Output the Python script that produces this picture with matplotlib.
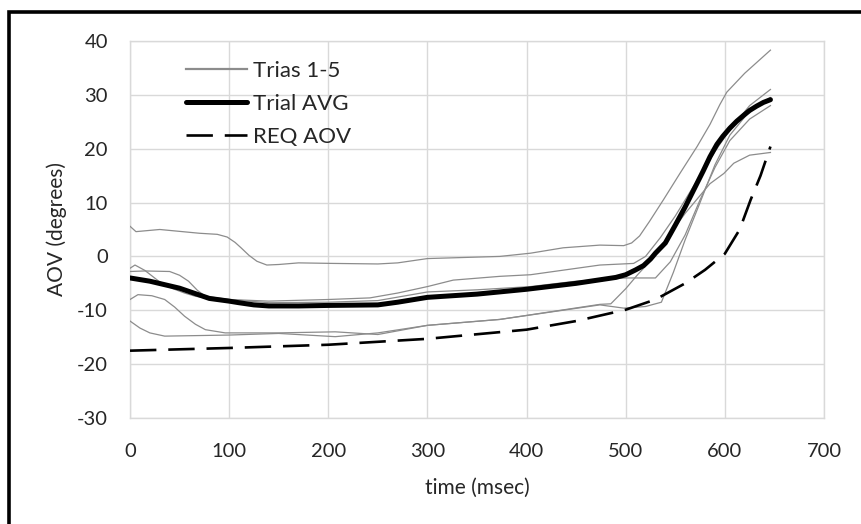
import matplotlib
matplotlib.use("Agg")
import matplotlib.pyplot as plt
from matplotlib.patches import Rectangle

plt.rcParams['font.family'] = ['Lato', 'DejaVu Sans']
plt.rcParams['axes.unicode_minus'] = False

# ---- data (time in msec, AOV in degrees) ----
t1_time = [0, 6, 30, 70, 88, 98, 106, 112, 120, 128, 138, 150, 170, 205, 250, 270, 300, 373,
           404, 437, 474, 498, 506, 514, 524, 538, 555, 572, 585, 595, 602, 620, 646]
t1_aov = [5.6, 4.6, 5.0, 4.3, 4.1, 3.6, 2.6, 1.6, 0.2, -0.9, -1.6, -1.5, -1.2, -1.3, -1.4, -1.2, -0.4, 0.0,
          0.6, 1.6, 2.1, 2.0, 2.5, 3.8, 6.5, 10.5, 15.5, 20.4, 24.5, 28.2, 30.5, 34.0, 38.3]

t2_time = [0, 5, 15, 29, 42, 55, 66, 76, 100, 140, 200, 242, 270, 300, 326, 373, 404, 474,
           508, 520, 535, 550, 570, 590, 605, 625, 646]
t2_aov = [-2.2, -1.6, -2.6, -4.6, -5.9, -6.8, -7.4, -7.7, -8.0, -8.3, -8.0, -7.7, -6.8, -5.6, -4.4, -3.7, -3.4, -1.6,
          -1.3, 0.0, 3.5, 7.5, 13.5, 19.5, 23.5, 28.0, 31.0]

t3_time = [0, 15, 40, 50, 59, 68, 76, 100, 140, 200, 250, 300, 350, 404, 450, 500,
           530, 545, 560, 575, 590, 605, 625, 646]
t3_aov = [-2.8, -2.7, -2.8, -3.5, -4.6, -6.3, -7.4, -8.0, -8.6, -8.5, -8.2, -6.6, -6.2, -5.6, -4.6, -4.0,
          -4.0, -1.0, 4.0, 10.5, 16.5, 21.5, 25.5, 28.0]

t4_time = [0, 8, 22, 35, 45, 55, 66, 76, 96, 150, 207, 250, 300, 373, 474, 485, 500,
           512, 524, 540, 560, 585, 599, 609, 625, 646]
t4_aov = [-8.0, -7.1, -7.3, -8.0, -9.4, -11.1, -12.6, -13.6, -14.2, -14.2, -14.0, -14.5, -12.8, -11.7, -8.9, -8.8, -6.0,
          -3.4, -1.0, 3.0, 8.0, 13.5, 15.4, 17.3, 18.8, 19.3]

t5_time = [0, 10, 20, 35, 100, 150, 207, 250, 300, 373, 474, 498, 520, 536,
           548, 560, 575, 590, 605, 625, 646]
t5_aov = [-12.0, -13.3, -14.2, -14.8, -14.6, -14.3, -14.9, -14.2, -12.8, -11.7, -9.0, -9.6, -9.3, -8.5,
          -3.0, 3.1, 10.0, 17.0, 22.5, 27.0, 29.5]

avg_time = [0, 20, 50, 80, 100, 110, 125, 140, 170, 200, 250, 270, 300, 350, 400, 450, 490, 500,
            510, 518, 525, 530, 540, 550, 560, 578, 585, 592, 598, 605, 612, 619, 625, 632, 639, 646]
avg_aov = [-4.0, -4.6, -5.9, -7.8, -8.3, -8.6, -9.0, -9.2, -9.2, -9.1, -9.0, -8.5, -7.6, -7.0, -6.1, -5.0, -3.9, -3.4,
           -2.5, -1.7, -0.5, 0.6, 2.5, 5.8, 9.2, 15.8, 18.5, 20.8, 22.3, 23.8, 25.1, 26.2, 27.1, 27.9, 28.6, 29.1]

req_time = [0, 100, 200, 300, 400, 450, 500, 530, 560, 580, 600, 615, 626, 636, 646]
req_aov = [-17.5, -17.0, -16.4, -15.3, -13.6, -12.0, -9.9, -8.0, -5.0, -2.5, 0.5, 5.0, 10.5, 15.0, 20.4]

trials = [(t1_time, t1_aov), (t2_time, t2_aov), (t3_time, t3_aov),
          (t4_time, t4_aov), (t5_time, t5_aov)]

x_ticks = [0, 100, 200, 300, 400, 500, 600, 700]
y_ticks = [-30, -20, -10, 0, 10, 20, 30, 40]

# ---- figure ----
fig = plt.figure(figsize=(8.61, 5.24), dpi=100)
ax = fig.add_axes([0.151, 0.2023, 0.806, 0.7195])

grid_color = '#d9d9d9'
text_color = '#262626'

for i, (t, a) in enumerate(trials):
    ax.plot(t, a, color='#8c8c8c', lw=0.9, label='Trias 1-5' if i == 0 else None, zorder=3)
ax.plot(avg_time, avg_aov, color='black', lw=3.6, label='Trial AVG', zorder=4,
        solid_capstyle='round')
ax.plot(req_time, req_aov, color='black', lw=1.9, dashes=(10, 4.5), label='REQ AOV', zorder=4)

ax.set_xlim(0, 700)
ax.set_ylim(-30, 40)
ax.set_xticks(x_ticks)
ax.set_yticks(y_ticks)
ax.grid(True, color=grid_color, lw=1.0, zorder=0)
ax.set_axisbelow(True)
for sp in ax.spines.values():
    sp.set_color(grid_color)
    sp.set_linewidth(1.0)
ax.tick_params(length=0, labelsize=14.5, colors=text_color)
ax.tick_params(axis='x', pad=18)
ax.tick_params(axis='y', pad=16)

ax.set_xlabel('time (msec)', fontsize=15, color=text_color, va='center')
ax.set_ylabel('AOV (degrees)', fontsize=15, color=text_color, va='center')
ax.xaxis.set_label_coords(0.5, -0.186)
ax.yaxis.set_label_coords(-0.105, 0.5)

leg = ax.legend(loc='upper left', bbox_to_anchor=(0.08, 0.948), frameon=False,
                fontsize=16, handlelength=2.75, handletextpad=0.3, labelspacing=0.6,
                borderaxespad=0, borderpad=0)
for txt in leg.get_texts():
    txt.set_color(text_color)
for h in leg.get_lines():
    if h.get_label() == 'Trias 1-5':
        h.set_linewidth(1.6)

# black frame around the picture (only top and left edges are visible)
fig.add_artist(Rectangle((8.5 / 861, -0.2), 1.3, 1.2 - 11.5 / 524,
                         transform=fig.transFigure, fill=False, edgecolor='black',
                         lw=2.6, clip_on=False))

fig.savefig('out.png', dpi=100)
